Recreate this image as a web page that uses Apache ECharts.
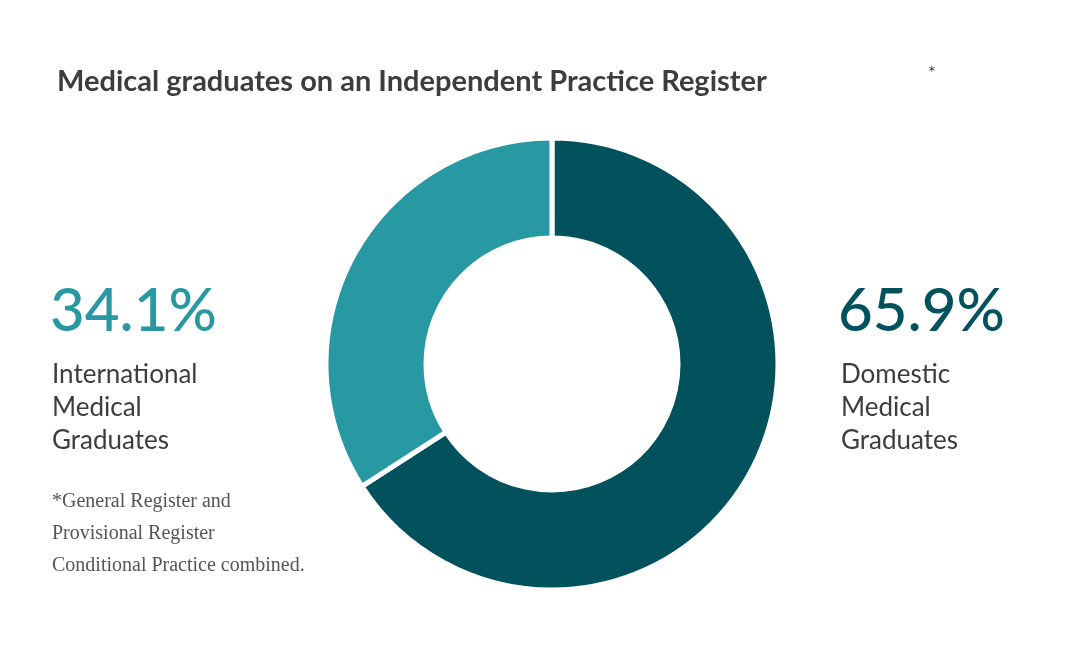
<!DOCTYPE html>
<html><head><meta charset="utf-8">
<script src="https://cdn.jsdelivr.net/npm/echarts@6/dist/echarts.min.js"></script>
<style>html,body{margin:0;background:#fff}#c{width:1079px;height:658px}</style>
</head><body><div id="c"></div>
<script>
const categories = ["Domestic Medical Graduates", "International Medical Graduates"];
const values = [65.9, 34.1];
const colors = ["#02525e", "#2898a3"];
const chart = echarts.init(document.getElementById('c'));
chart.setOption({
  backgroundColor: '#fff',
  animation: false,
  title: { text: 'Medical graduates on an Independent Practice Register', left: 52, top: 62,
    textStyle: { fontFamily: 'Lato', fontSize: 29, fontWeight: 'bold', color: '#3d3d3d' } },
  graphic: [
    { type: 'text', left: 928, top: 64, style: { text: '*', font: '18px Lato', fill: '#3d3d3d' } },
    { type: 'text', left: 50, top: 282, style: { text: '34.1%', font: '500 60px Lato', fill: colors[1] } },
    { type: 'text', left: 52, top: 358, style: { text: 'International\nMedical\nGraduates', font: '26px Lato', lineHeight: 33, fill: '#3d3d3d' } },
    { type: 'text', left: 52, top: 486, style: { text: '*General Register and\nProvisional Register\nConditional Practice combined.', font: '20px "Liberation Serif"', lineHeight: 32, fill: '#555' } },
    { type: 'text', left: 838, top: 282, style: { text: '65.9%', font: '500 60px Lato', fill: colors[0] } },
    { type: 'text', left: 841, top: 358, style: { text: 'Domestic\nMedical\nGraduates', font: '26px Lato', lineHeight: 33, fill: '#3d3d3d' } }
  ],
  series: [{
    type: 'pie', center: [552, 364], radius: [126, 226], startAngle: 90, clockwise: true,
    label: { show: false }, labelLine: { show: false },
    itemStyle: { borderColor: '#fff', borderWidth: 5 },
    data: categories.map((n, i) => ({ name: n, value: values[i], itemStyle: { color: colors[i] } }))
  }]
});
</script></body></html>
